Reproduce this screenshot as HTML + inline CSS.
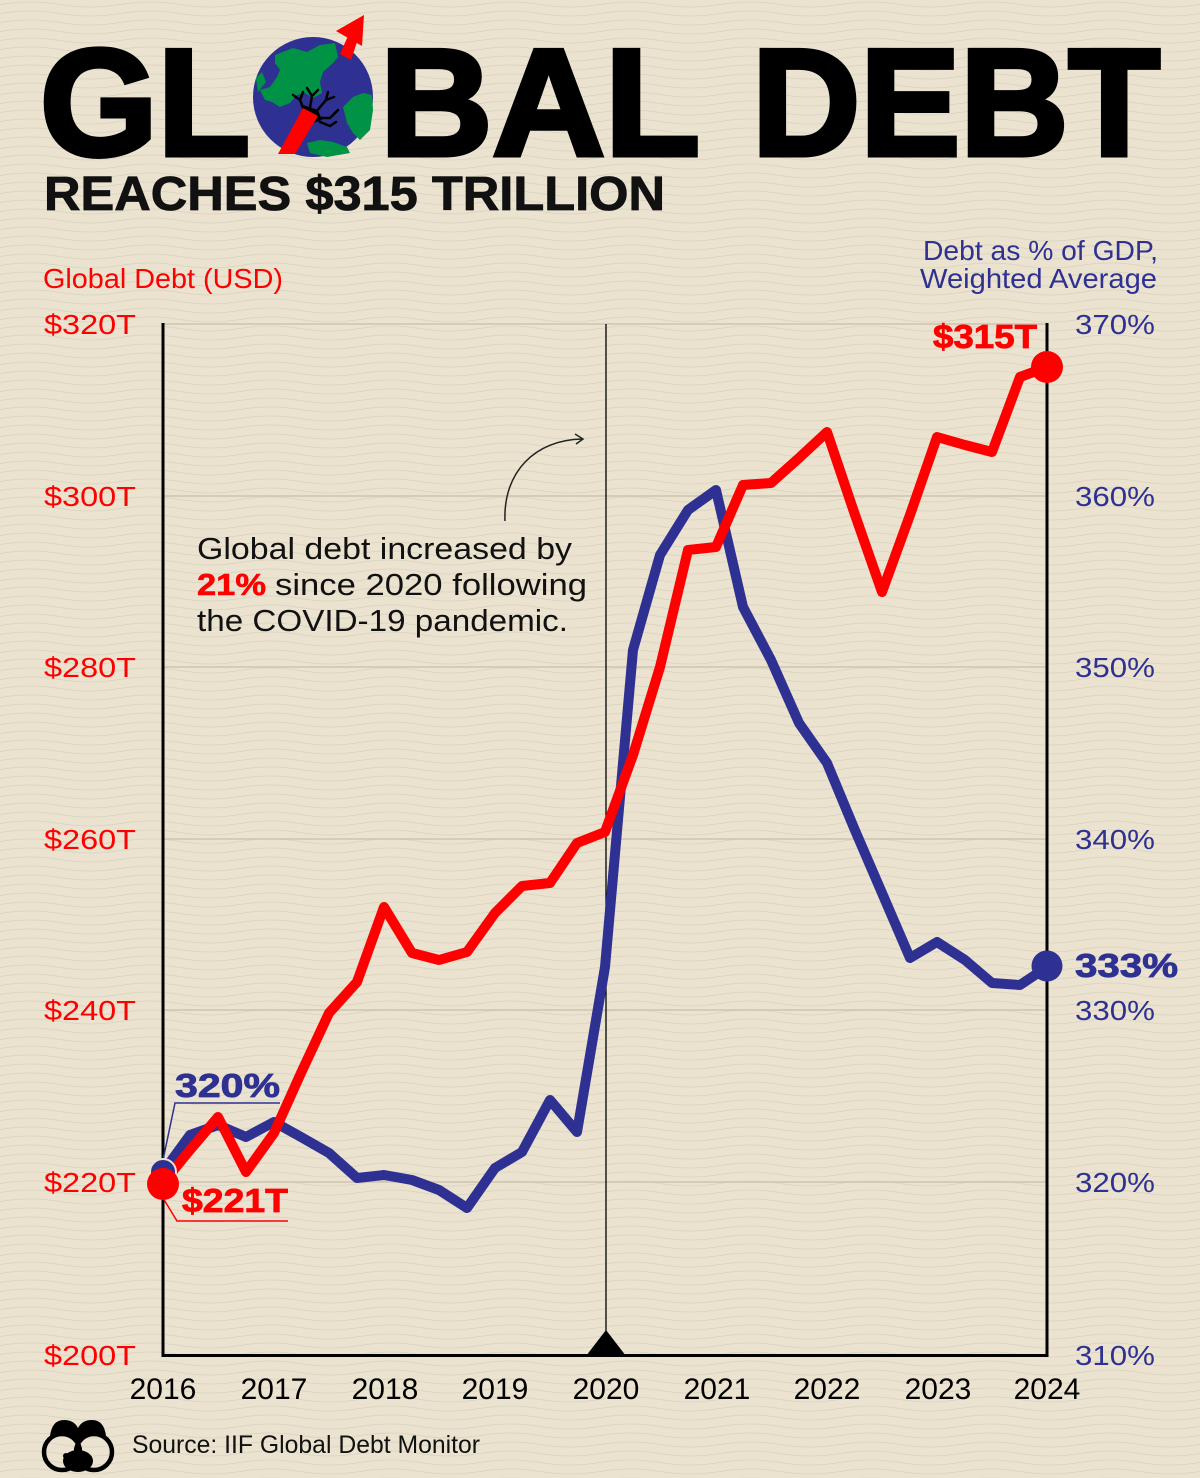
<!DOCTYPE html>
<html>
<head>
<meta charset="utf-8">
<style>
html,body{margin:0;padding:0;background:#ebe2d0;}
svg{display:block;}
text{font-family:"Liberation Sans",Arial,sans-serif;}
</style>
</head>
<body>
<svg width="1200" height="1478" viewBox="0 0 1200 1478" xmlns="http://www.w3.org/2000/svg">
<defs>
<pattern id="wave" x="0" y="0" width="120" height="9" patternUnits="userSpaceOnUse">
<path d="M0 4.5 Q30 -0.5 60 4.5 T120 4.5" fill="none" stroke="#b9c3a6" stroke-width="0.8" opacity="0.45"/>
</pattern>
</defs>
<rect width="1200" height="1478" fill="#ebe2d0"/>
<rect width="1200" height="1478" fill="url(#wave)"/>

<!-- Title -->
<text x="40" y="155" font-size="152" font-weight="bold" fill="#000" stroke="#000" stroke-width="5" textLength="210" lengthAdjust="spacingAndGlyphs">GL</text>
<text x="380" y="155" font-size="152" font-weight="bold" fill="#000" stroke="#000" stroke-width="5" textLength="320" lengthAdjust="spacingAndGlyphs">BAL</text>
<text x="752" y="155" font-size="152" font-weight="bold" fill="#000" stroke="#000" stroke-width="5" textLength="408" lengthAdjust="spacingAndGlyphs">DEBT</text>

<!-- Globe -->
<circle cx="313" cy="97" r="60" fill="#2e3192"/>
<path d="M275,55 L293,48 L307,52 L320,45 L335,43 L338,57 L333,63 L323,72 L320,82 L322,93 L313,98 L305,93 L297,95 L290,103 L280,107 L272,102 L265,100 L260,90 L270,87 L277,77 L280,70 L275,63 Z" fill="#009245"/>
<path d="M256,78 L262,72 L266,82 L258,92 Z" fill="#009245"/>
<path d="M343,107 L353,97 L363,93 L372,95 L373,110 L370,130 L360,140 L353,133 L347,123 Z" fill="#009245"/>
<path d="M307,143 L320,140 L333,142 L347,147 L350,153 L327,157 L310,153 Z" fill="#009245"/>
<g stroke="#000" stroke-width="2.5" fill="none" stroke-linecap="round">
<path d="M305,112 L300,100 L293,95"/>
<path d="M300,100 L303,92"/>
<path d="M310,108 L312,96 L307,88"/>
<path d="M312,96 L318,90"/>
<path d="M316,112 L326,100 L334,97"/>
<path d="M326,100 L328,92"/>
<path d="M318,118 L330,118 L338,110"/>
<path d="M320,122 L330,126 L336,122"/>
</g>
<path d="M300,104 L318,110 L322,120 L310,124 Z" fill="#000"/>
<!-- Arrow -->
<polygon points="278,154 295,154 318,116 303,108" fill="#ff0000"/>
<polygon points="340,54 351,60 357,42 348,36" fill="#ff0000"/>
<polygon points="336,31 364,15 362,46" fill="#ff0000"/>

<!-- Subtitle -->
<text x="44" y="210" font-size="48" font-weight="bold" fill="#111" stroke="#111" stroke-width="0.8" textLength="621" lengthAdjust="spacingAndGlyphs">REACHES $315 TRILLION</text>

<!-- Axis titles -->
<text x="43" y="288" font-size="28" fill="#ff0000" textLength="240" lengthAdjust="spacingAndGlyphs">Global Debt (USD)</text>
<text x="923" y="260" font-size="28" fill="#2e3192" textLength="235" lengthAdjust="spacingAndGlyphs">Debt as % of GDP,</text>
<text x="920" y="288" font-size="28" fill="#2e3192" textLength="237" lengthAdjust="spacingAndGlyphs">Weighted Average</text>

<!-- Gridlines -->
<g stroke="#cdc4ae" stroke-width="1.5">
<line x1="163" y1="324" x2="1047" y2="324"/>
<line x1="163" y1="496" x2="1047" y2="496"/>
<line x1="163" y1="667" x2="1047" y2="667"/>
<line x1="163" y1="839" x2="1047" y2="839"/>
<line x1="163" y1="1010" x2="1047" y2="1010"/>
<line x1="163" y1="1182" x2="1047" y2="1182"/>
</g>

<!-- Left tick labels -->
<g font-size="28" fill="#ff0000">
<text x="44" y="334" textLength="92" lengthAdjust="spacingAndGlyphs">$320T</text>
<text x="44" y="506" textLength="92" lengthAdjust="spacingAndGlyphs">$300T</text>
<text x="44" y="677" textLength="92" lengthAdjust="spacingAndGlyphs">$280T</text>
<text x="44" y="849" textLength="92" lengthAdjust="spacingAndGlyphs">$260T</text>
<text x="44" y="1020" textLength="92" lengthAdjust="spacingAndGlyphs">$240T</text>
<text x="44" y="1192" textLength="92" lengthAdjust="spacingAndGlyphs">$220T</text>
<text x="44" y="1365" textLength="92" lengthAdjust="spacingAndGlyphs">$200T</text>
</g>
<!-- Right tick labels -->
<g font-size="28" fill="#2e3192">
<text x="1075" y="334" textLength="80" lengthAdjust="spacingAndGlyphs">370%</text>
<text x="1075" y="506" textLength="80" lengthAdjust="spacingAndGlyphs">360%</text>
<text x="1075" y="677" textLength="80" lengthAdjust="spacingAndGlyphs">350%</text>
<text x="1075" y="849" textLength="80" lengthAdjust="spacingAndGlyphs">340%</text>
<text x="1075" y="1020" textLength="80" lengthAdjust="spacingAndGlyphs">330%</text>
<text x="1075" y="1192" textLength="80" lengthAdjust="spacingAndGlyphs">320%</text>
<text x="1075" y="1365" textLength="80" lengthAdjust="spacingAndGlyphs">310%</text>
</g>

<!-- Axes -->
<line x1="163" y1="323" x2="163" y2="1357" stroke="#000" stroke-width="3"/>
<line x1="1047" y1="323" x2="1047" y2="1357" stroke="#000" stroke-width="3"/>
<line x1="606" y1="324" x2="606" y2="1355" stroke="#000" stroke-width="1.3"/>
<line x1="161.5" y1="1355.5" x2="1048.5" y2="1355.5" stroke="#000" stroke-width="3"/>
<polygon points="586,1356 626,1356 606,1330" fill="#000"/>

<!-- Year labels -->
<g font-size="30" fill="#000" text-anchor="middle">
<text x="163" y="1399">2016</text>
<text x="274" y="1399">2017</text>
<text x="385" y="1399">2018</text>
<text x="495" y="1399">2019</text>
<text x="606" y="1399">2020</text>
<text x="717" y="1399">2021</text>
<text x="827" y="1399">2022</text>
<text x="938" y="1399">2023</text>
<text x="1047" y="1399">2024</text>
</g>

<!-- Annotation -->
<g font-size="31" fill="#111">
<text x="197" y="559" textLength="375" lengthAdjust="spacingAndGlyphs">Global debt increased by</text>
<text x="197" y="595" font-weight="bold" fill="#ff0000" stroke="#ff0000" stroke-width="0.6" textLength="69" lengthAdjust="spacingAndGlyphs">21%</text>
<text x="275" y="595" textLength="312" lengthAdjust="spacingAndGlyphs">since 2020 following</text>
<text x="197" y="631" textLength="371" lengthAdjust="spacingAndGlyphs">the COVID-19 pandemic.</text>
</g>
<path d="M505,521 C503,472 535,440 582,439" fill="none" stroke="#222" stroke-width="1.5"/>
<path d="M575,434 L583,439 L576,444" fill="none" stroke="#222" stroke-width="1.5"/>

<!-- Blue series -->
<polyline fill="none" stroke="#2e3192" stroke-width="10" stroke-linejoin="round" stroke-linecap="round" points="163,1172 190,1135 218,1125 246,1137 274,1122 301,1137 329,1153 357,1178 384,1175 412,1180 439,1190 467,1208 495,1168 522,1152 550,1100 577,1132 605,967 633,650 660,555 688,510 716,490 743,607 771,660 799,723 827,763 854,828 882,893 910,958 937,942 965,960 992,983 1020,985 1047,967"/>

<!-- Red series -->
<polyline fill="none" stroke="#ff0000" stroke-width="10" stroke-linejoin="round" stroke-linecap="round" points="163,1183 190,1150 218,1117 246,1172 274,1133 301,1073 329,1013 357,982 384,907 412,953 439,960 467,952 495,913 522,886 550,883 577,843 605,832 633,755 660,667 688,550 716,547 743,485 771,483 799,458 827,432 854,512 882,592 910,515 937,437 965,445 992,452 1020,377 1047,367"/>

<!-- Leader lines -->
<polyline points="280,1103 175,1103 163,1160" fill="none" stroke="#2e3192" stroke-width="1.5"/>
<polyline points="163,1198 177,1221 288,1221" fill="none" stroke="#ff0000" stroke-width="1.5"/>

<!-- End markers -->
<circle cx="163" cy="1172" r="13" fill="#2e3192" stroke="#ebe2d0" stroke-width="2"/>
<circle cx="163" cy="1184" r="16" fill="#ff0000"/>
<circle cx="1047" cy="367" r="16" fill="#ff0000"/>
<circle cx="1047" cy="966" r="15.5" fill="#2e3192"/>

<!-- Value labels -->
<text x="175" y="1097" font-size="33" font-weight="bold" fill="#2e3192" stroke="#2e3192" stroke-width="0.8" textLength="105" lengthAdjust="spacingAndGlyphs">320%</text>
<text x="182" y="1212" font-size="33" font-weight="bold" fill="#ff0000" stroke="#ff0000" stroke-width="0.8" textLength="106" lengthAdjust="spacingAndGlyphs">$221T</text>
<text x="933" y="348" font-size="33" font-weight="bold" fill="#ff0000" stroke="#ff0000" stroke-width="0.8" textLength="104" lengthAdjust="spacingAndGlyphs">$315T</text>
<text x="1075" y="977" font-size="33" font-weight="bold" fill="#2e3192" stroke="#2e3192" stroke-width="0.8" textLength="103" lengthAdjust="spacingAndGlyphs">333%</text>

<!-- Source logo -->
<g>
<circle cx="62" cy="1452" r="18" fill="none" stroke="#000" stroke-width="4.5"/>
<circle cx="94" cy="1452" r="18" fill="none" stroke="#000" stroke-width="4.5"/>
<path d="M50,1436 Q52,1420 64,1420 Q74,1420 78,1428 Q82,1420 92,1420 Q104,1420 106,1436 Q96,1430 86,1434 Q80,1438 78,1444 Q76,1438 70,1434 Q60,1430 50,1436 Z" fill="#000"/>
<ellipse cx="78" cy="1461" rx="15" ry="11" fill="#000"/>
<circle cx="66" cy="1456" r="3" fill="#000"/>
</g>
<text x="132" y="1453" font-size="25" fill="#111" textLength="348" lengthAdjust="spacingAndGlyphs">Source: IIF Global Debt Monitor</text>
</svg>
</body>
</html>
